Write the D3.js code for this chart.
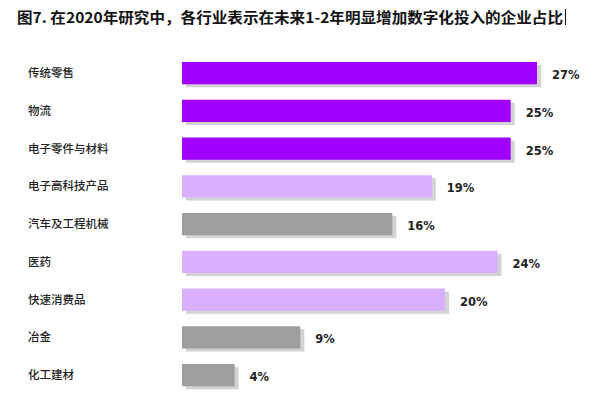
<!DOCTYPE html>
<html>
<head>
  <meta charset="utf-8">
  <script src="https://d3js.org/d3.v7.min.js"></script>
  <style>
    body { margin: 0; background: #fff; }
    .title { font-family: "Noto Sans CJK SC", sans-serif; font-weight: 700; font-size: 14.5px; fill: #111; }
    .cat { font-family: "Noto Sans CJK SC", sans-serif; font-weight: 500; font-size: 11.5px; fill: #222; }
    .val { font-family: "DejaVu Sans", sans-serif; font-weight: 700; font-size: 11.5px; fill: #222; }
  </style>
</head>
<body>
  <svg id="chart" width="600" height="400"></svg>
  <script>
    const categories = ["传统零售", "物流", "电子零件与材料", "电子高科技产品", "汽车及工程机械", "医药", "快速消费品", "冶金", "化工建材"];
    const values = [27, 25, 25, 19, 16, 24, 20, 9, 4];
    const groups = ["dark", "dark", "dark", "light", "grey", "light", "light", "grey", "grey"];
    const titleText = "图7. 在2020年研究中，各行业表示在未来1-2年明显增加数字化投入的企业占比";

    const rows = categories.map((c, i) => ({ cat: c, value: values[i], group: groups[i] }));

    const color = d3.scaleOrdinal()
      .domain(["dark", "light", "grey"])
      .range(["#a000ff", "#d9affe", "#9e9e9e"]);

    const svg = d3.select("#chart");

    const x = d3.scaleLinear().domain([0, 27]).range([182, 537]);
    const y = d3.scaleBand().domain(categories).range([62, 386.3]).paddingInner(0.41).paddingOuter(0);

    // source image is a bit stretched sideways, so squeeze the title into the same span
    svg.append("text")
      .attr("class", "title")
      .attr("x", 17)
      .attr("y", 23)
      .attr("textLength", 546)
      .attr("lengthAdjust", "spacingAndGlyphs")
      .text(titleText);

    // little text cursor after the title, as in the source image
    svg.append("line")
      .attr("x1", 565.5).attr("x2", 565.5)
      .attr("y1", 9).attr("y2", 25)
      .attr("stroke", "#111").attr("stroke-width", 1);

    // shadows first
    svg.selectAll("rect.shadow").data(rows)
      .join("rect")
      .attr("class", "shadow")
      .attr("x", x(0) + 4)
      .attr("y", d => y(d.cat) + 3)
      .attr("width", d => x(d.value) - x(0))
      .attr("height", y.bandwidth())
      .attr("fill", "#d3d3d3");

    svg.selectAll("rect.bar").data(rows)
      .join("rect")
      .attr("class", "bar")
      .attr("x", x(0))
      .attr("y", d => y(d.cat))
      .attr("width", d => x(d.value) - x(0))
      .attr("height", y.bandwidth())
      .attr("fill", d => color(d.group));

    svg.selectAll("text.cat").data(rows)
      .join("text")
      .attr("class", "cat")
      .attr("x", 28)
      .attr("y", d => y(d.cat) + y.bandwidth() / 2)
      .attr("dy", "0.35em")
      .text(d => d.cat);

    svg.selectAll("text.val").data(rows)
      .join("text")
      .attr("class", "val")
      .attr("x", d => x(d.value) + 15)
      .attr("y", d => y(d.cat) + y.bandwidth() / 2 + 2)
      .attr("dy", "0.35em")
      .text(d => d.value + "%");
  </script>
</body>
</html>
